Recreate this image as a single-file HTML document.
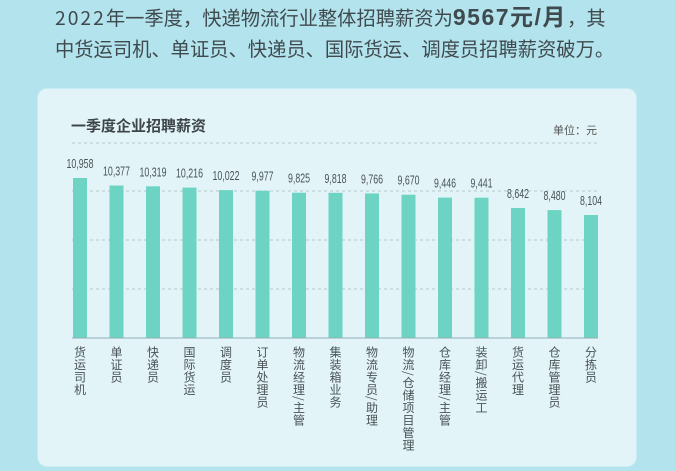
<!DOCTYPE html>
<html><head><meta charset="utf-8"><style>
html,body{margin:0;padding:0;}
body{width:675px;height:471px;background:#b3e3ed;position:relative;overflow:hidden;font-family:"Liberation Sans","Noto Sans CJK SC",sans-serif;}
.hd{position:absolute;left:55px;font-size:19.3px;color:#3f4a4e;white-space:nowrap;line-height:24px;font-family:"Noto Sans CJK SC",sans-serif;}
.card{position:absolute;left:37px;top:88px;width:600px;height:379px;background:#e2f4f8;border-radius:10px;border:1px solid #c8ecf3;box-sizing:border-box;}
.lb{position:absolute;top:346px;writing-mode:vertical-rl;font-size:12px;line-height:12px;color:#4a5356;letter-spacing:0.5px;font-family:"Noto Sans CJK SC",sans-serif;}
</style></head><body>
<div class="hd" style="top:5px"><span style="letter-spacing:2px">2022</span>年一季度，快递物流行业整体招聘薪资为<b style="font-size:23px;letter-spacing:1.5px;font-family:'Liberation Sans','Noto Sans CJK SC',sans-serif">9567元/月</b>，其</div>
<div class="hd" style="top:36px">中货运司机、单证员、快递员、国际货运、调度员招聘薪资破万。</div>
<div class="card"></div>
<svg width="675" height="471" style="position:absolute;left:0;top:0" xmlns="http://www.w3.org/2000/svg">
<text x="71" y="131" font-size="15" font-weight="bold" fill="#3d4548" font-family="Noto Sans CJK SC,sans-serif">一季度企业招聘薪资</text>
<text x="553" y="134" font-size="11" fill="#555" font-family="Noto Sans CJK SC,sans-serif">单位：元</text>
<g stroke="#b8c8cc" stroke-dasharray="3,3" stroke-width="1">
<line x1="72" y1="143" x2="598" y2="143"/><line x1="72" y1="191" x2="598" y2="191"/><line x1="72" y1="240" x2="598" y2="240"/><line x1="72" y1="289" x2="598" y2="289"/>
</g>
<g fill="#6dd4c4">
<rect x="73" y="178" width="14" height="160"/>
<rect x="109.5" y="185.5" width="14" height="152.5"/>
<rect x="146" y="186.3" width="14" height="151.7"/>
<rect x="182.5" y="187.6" width="14" height="150.4"/>
<rect x="219" y="190.1" width="14" height="147.9"/>
<rect x="255.5" y="190.7" width="14" height="147.3"/>
<rect x="292" y="192.7" width="14" height="145.3"/>
<rect x="328.5" y="192.8" width="14" height="145.2"/>
<rect x="365" y="193.4" width="14" height="144.6"/>
<rect x="401.5" y="194.7" width="14" height="143.3"/>
<rect x="438" y="197.6" width="14" height="140.4"/>
<rect x="474.5" y="197.7" width="14" height="140.3"/>
<rect x="511" y="208" width="14" height="130"/>
<rect x="547.5" y="210.1" width="14" height="127.9"/>
<rect x="584" y="215" width="14" height="123"/>
</g>
<line x1="72" y1="338" x2="598" y2="338" stroke="#8fb0b6" stroke-width="1"/>
<g font-size="13" fill="#4a5356" text-anchor="middle" font-family="Liberation Sans,sans-serif">
<text x="80" y="168" textLength="27" lengthAdjust="spacingAndGlyphs">10,958</text>
<text x="116.5" y="175.5" textLength="27" lengthAdjust="spacingAndGlyphs">10,377</text>
<text x="153" y="176.3" textLength="27" lengthAdjust="spacingAndGlyphs">10,319</text>
<text x="189.5" y="177.6" textLength="27" lengthAdjust="spacingAndGlyphs">10,216</text>
<text x="226" y="180.1" textLength="27" lengthAdjust="spacingAndGlyphs">10,022</text>
<text x="262.5" y="180.7" textLength="22" lengthAdjust="spacingAndGlyphs">9,977</text>
<text x="299" y="182.7" textLength="22" lengthAdjust="spacingAndGlyphs">9,825</text>
<text x="335.5" y="182.8" textLength="22" lengthAdjust="spacingAndGlyphs">9,818</text>
<text x="372" y="183.4" textLength="22" lengthAdjust="spacingAndGlyphs">9,766</text>
<text x="408.5" y="184.7" textLength="22" lengthAdjust="spacingAndGlyphs">9,670</text>
<text x="445" y="187.6" textLength="22" lengthAdjust="spacingAndGlyphs">9,446</text>
<text x="481.5" y="187.7" textLength="22" lengthAdjust="spacingAndGlyphs">9,441</text>
<text x="518" y="198" textLength="22" lengthAdjust="spacingAndGlyphs">8,642</text>
<text x="554.5" y="200.1" textLength="22" lengthAdjust="spacingAndGlyphs">8,480</text>
<text x="591" y="205" textLength="22" lengthAdjust="spacingAndGlyphs">8,104</text>
</g>
</svg>
<div class="lb" style="left:73.5px">货运司机</div>
<div class="lb" style="left:110px">单证员</div>
<div class="lb" style="left:146.5px">快递员</div>
<div class="lb" style="left:183px">国际货运</div>
<div class="lb" style="left:219.5px">调度员</div>
<div class="lb" style="left:256px">订单处理员</div>
<div class="lb" style="left:292.5px">物流经理/主管</div>
<div class="lb" style="left:329px">集装箱业务</div>
<div class="lb" style="left:365.5px">物流专员/助理</div>
<div class="lb" style="left:402px">物流/仓储项目管理</div>
<div class="lb" style="left:438.5px">仓库经理/主管</div>
<div class="lb" style="left:475px">装卸/搬运工</div>
<div class="lb" style="left:511.5px">货运代理</div>
<div class="lb" style="left:548px">仓库管理员</div>
<div class="lb" style="left:584.5px">分拣员</div>
</body></html>
